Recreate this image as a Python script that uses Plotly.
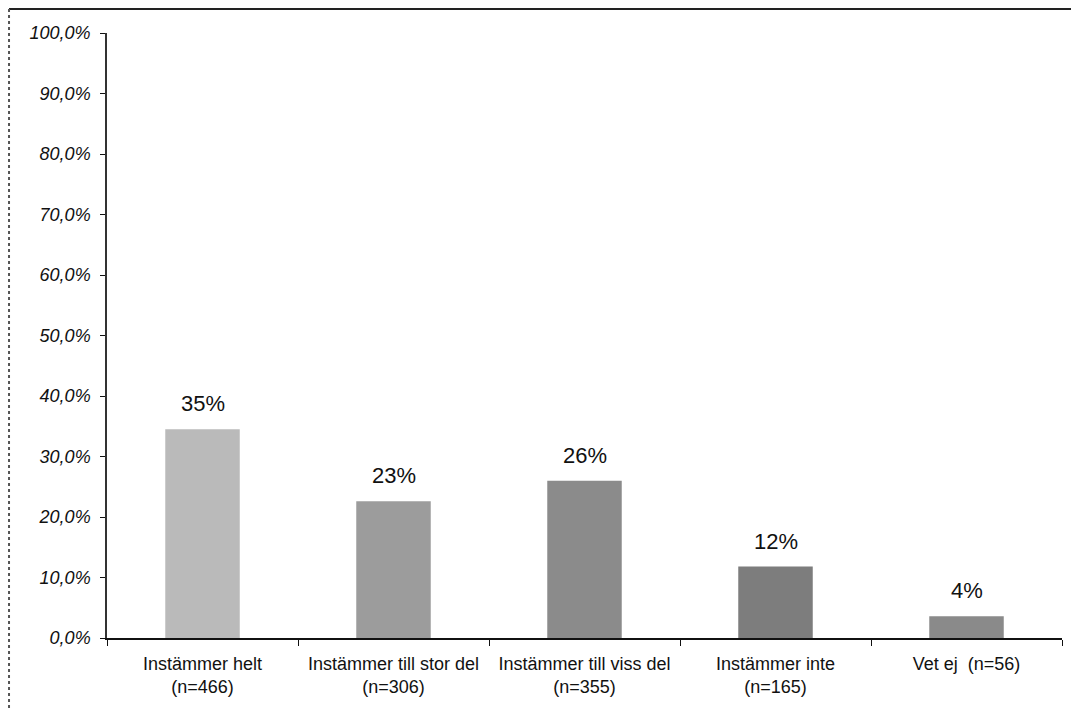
import plotly.graph_objects as go

categories = ["Instämmer helt<br>(n=466)", "Instämmer till stor del<br>(n=306)",
              "Instämmer till viss del<br>(n=355)", "Instämmer inte<br>(n=165)",
              "Vet ej\u00a0\u00a0(n=56)"]
values = [34.5, 22.6, 26.0, 11.8, 3.6]
value_labels = ["35%", "23%", "26%", "12%", "4%"]
bar_colors = ["#bababa", "#9c9c9c", "#8b8b8b", "#7d7d7d", "#8a8a8a"]
tick_vals = [0, 10, 20, 30, 40, 50, 60, 70, 80, 90, 100]
tick_labels = ["0,0%", "10,0%", "20,0%", "30,0%", "40,0%", "50,0%",
               "60,0%", "70,0%", "80,0%", "90,0%", "100,0%"]

fig = go.Figure(go.Bar(
    x=categories, y=values,
    marker=dict(color=bar_colors, line=dict(width=0)),
    width=0.39,
))

for c, v, t in zip(categories, values, value_labels):
    fig.add_annotation(x=c, y=v, text=t, showarrow=False, yanchor="bottom", yshift=11,
                       font=dict(family="Liberation Sans, Arial", size=22, color="#111"))

fig.update_layout(
    width=1079, height=709,
    margin=dict(l=99, r=25, t=25, b=79),
    paper_bgcolor="white", plot_bgcolor="white",
    showlegend=False,
    font=dict(family="Liberation Sans, Arial", color="#111"),
    xaxis=dict(
        showline=True, linecolor="#111", linewidth=2,
        ticks="outside", tickson="boundaries", ticklen=6, tickcolor="#111",
        tickfont=dict(size=18, color="#111"), showgrid=False,
        ticklabelstandoff=8,
    ),
    yaxis=dict(
        range=[0, 100], tickvals=tick_vals, ticktext=tick_labels,
        showline=True, linecolor="#333", linewidth=1.5,
        ticks="outside", ticklen=5, tickcolor="#111",
        tickfont=dict(size=18, color="#111", style="italic"),
        showgrid=False, zeroline=False, ticklabelstandoff=6,
    ),
    shapes=[
        dict(type="line", xref="paper", yref="paper", x0=-0.1026, x1=1.03, y0=1.0397, y1=1.0397,
             line=dict(color="#222", width=2)),
        dict(type="line", xref="paper", yref="paper", x0=-0.1026, x1=-0.1026, y0=1.0397, y1=-0.13,
             line=dict(color="#555", width=2, dash="dot")),
    ],
)

fig.write_html("out.html")
